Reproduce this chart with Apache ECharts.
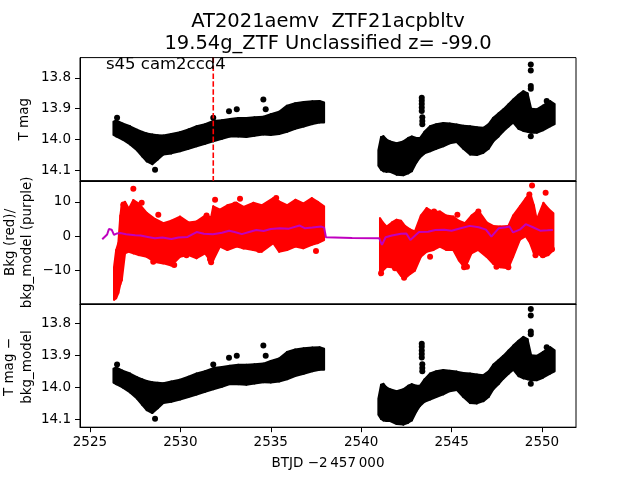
<!DOCTYPE html>
<html>
<head>
<meta charset="utf-8">
<script src="https://cdn.jsdelivr.net/npm/echarts@6/dist/echarts.min.js"></script>
<style>
html, body { margin: 0; background: #fff; }
#chart { width: 640px; height: 480px; }
</style>
</head>
<body>
<div id="chart"></div>
<script>
// black light curve band (T mag): time, bright edge, faint edge
const magT = [
    2526.30, 2526.45, 2526.80, 2527.22, 2527.60, 2527.90, 2528.14, 2528.45, 2528.75, 2529.06,
    2529.50, 2529.98, 2530.45, 2530.90, 2531.37, 2531.82, 2532.30, 2532.74, 2533.20, 2533.65,
    2534.10, 2534.59, 2535.00, 2535.46, 2535.90, 2536.35, 2536.82, 2537.30, 2537.70, 2537.95,
    2540.95, 2541.10, 2541.23, 2541.40, 2541.60, 2541.96, 2542.33, 2542.60, 2542.80, 2543.05,
    2543.25, 2543.50, 2543.81, 2544.15, 2544.54, 2544.90, 2545.28, 2545.65, 2546.02, 2546.40,
    2546.76, 2547.05, 2547.31, 2547.60, 2547.86, 2548.15, 2548.41, 2548.70, 2548.97, 2549.20,
    2549.40, 2549.71, 2550.05, 2550.45, 2550.70
];
const magLo = [
    13.942, 13.938, 13.948, 13.957, 13.968, 13.975, 13.980, 13.984, 13.986, 13.987,
    13.982, 13.976, 13.967, 13.957, 13.950, 13.940, 13.937, 13.933, 13.930, 13.930,
    13.928, 13.926, 13.918, 13.910, 13.890, 13.882, 13.878, 13.876, 13.875, 13.880,
    14.035, 13.992, 13.989, 14.000, 14.006, 14.012, 14.006, 13.995, 13.990, 13.995,
    13.995, 13.975, 13.957, 13.950, 13.946, 13.948, 13.951, 13.955, 13.957, 13.960,
    13.962, 13.950, 13.929, 13.915, 13.902, 13.885, 13.870, 13.855, 13.843, 13.850,
    13.900, 13.902, 13.890, 13.875, 13.885
];
const magHi = [
    13.985, 13.990, 14.000, 14.016, 14.035, 14.055, 14.071, 14.080, 14.065, 14.049,
    14.045, 14.038, 14.030, 14.022, 14.014, 14.006, 13.998, 13.990, 13.990, 13.992,
    13.988, 13.984, 13.985, 13.982, 13.975, 13.965, 13.958, 13.950, 13.945, 13.945,
    14.085, 14.098, 14.103, 14.105, 14.105, 14.114, 14.116, 14.110, 14.103, 14.075,
    14.058, 14.045, 14.038, 14.030, 14.022, 14.012, 14.008, 14.030, 14.049, 14.050,
    14.043, 14.030, 14.006, 13.990, 13.973, 13.958, 13.945, 13.965, 13.972, 13.975,
    13.978, 13.978, 13.970, 13.957, 13.950
];
// single black points away from the band
const magOutT = [2526.50, 2528.60, 2532.69, 2533.12, 2534.59, 2534.72, 2531.82,
    2543.35, 2543.35, 2543.35, 2543.35, 2543.35, 2543.38, 2543.38, 2543.38,
    2549.38, 2549.38, 2549.38, 2549.38, 2549.38, 2550.26];
const magOutV = [13.929, 14.098, 13.908, 13.902, 13.870, 13.902, 13.929,
    13.864, 13.874, 13.885, 13.896, 13.907, 13.928, 13.940, 13.950,
    13.756, 13.776, 13.826, 13.835, 13.989, 13.875];

// red background band: time, lowest, highest
const bkgT = [
    2526.33, 2526.45, 2526.57, 2526.68, 2526.76, 2526.94, 2527.15, 2527.40, 2527.70, 2528.14,
    2528.60, 2529.06, 2529.50, 2529.98, 2530.45, 2530.90, 2531.37, 2531.70, 2531.82, 2532.19,
    2532.60, 2533.11, 2533.50, 2534.03, 2534.50, 2535.14, 2535.46, 2535.90, 2536.36, 2536.80,
    2537.27, 2537.60, 2537.95,
    2541.04, 2541.20, 2541.41, 2541.70, 2541.96, 2542.20, 2542.42, 2542.70, 2542.97, 2543.30,
    2543.62, 2544.00, 2544.35, 2544.70, 2545.09, 2545.40, 2545.74, 2546.10, 2546.47, 2546.94,
    2547.30, 2547.68, 2548.14, 2548.40, 2548.78, 2549.10, 2549.34, 2549.55, 2549.71, 2550.08,
    2550.35, 2550.63
];
const bkgLo = [
    -18.5, -18.0, -16.5, -14.0, -12.8, -5.0, -4.5, -5.0, -5.5, -6.0,
    -7.5, -7.9, -8.5, -6.0, -5.5, -6.4, -5.0, -7.5, -6.9, -3.0,
    -4.0, -3.0, -3.5, -4.0, -4.5, -2.0, -4.5, -4.0, -3.0, -3.5,
    -2.5, -2.0, -1.1,
    -11.3, -10.0, -8.9, -9.0, -9.8, -11.5, -12.3, -11.0, -10.0, -6.0,
    -4.5, -4.0, -3.0, -4.0, -4.0, -7.0, -9.3, -5.0, -4.0, -6.0,
    -8.0, -9.0, -9.3, -6.0, -1.0, 0.0, -2.0, -5.0, -5.0, -6.0,
    -5.5, -4.0
];
const bkgHi = [
    -9.0, -4.0, -2.0, 6.0, 9.2, 10.0, 8.0, 10.5, 9.5, 6.8,
    5.0, 3.8, 4.5, 5.7, 4.0, 4.3, 6.0, 5.5, 8.7, 7.7,
    9.0, 9.7, 8.5, 9.7, 9.0, 11.1, 10.1, 9.0, 10.6, 9.5,
    11.1, 10.0, 8.7,
    5.3, 4.0, 2.8, 4.0, 4.8, 4.5, 3.0, 2.0, 1.4, 6.0,
    8.2, 7.0, 7.2, 6.0, 5.7, 4.5, 3.8, 6.0, 7.5, 4.0,
    3.0, 2.8, 3.0, 6.0, 8.7, 11.0, 12.6, 9.0, 4.8, 9.7,
    8.0, 6.7
];
// red points sticking out of the band
const bkgOutT = [2527.40, 2535.30, 2537.50, 2531.70, 2545.85, 2547.48, 2549.45, 2550.20, 2549.64,
    2526.85, 2527.86, 2528.78, 2528.50, 2529.66, 2530.34, 2531.45, 2531.64, 2531.92, 2533.03,
    2533.30, 2533.50, 2534.36, 2541.10, 2541.87, 2542.37, 2543.81, 2544.03, 2545.32, 2545.69,
    2546.48, 2548.14, 2549.30, 2550.04, 2550.55];
const bkgOutV = [13.8, 11.1, -4.3, -7.6, -8.9, -8.9, 14.7, 12.6, -5.5,
    9.2, 9.7, 6.2, -7.4, -8.4, -5.5, 6.0, -6.7, 10.6, 9.2,
    10.9, -3.0, -4.0, -10.8, -9.3, -12.1, -6.0, 7.2, 6.2, -9.0,
    7.2, -9.0, 12.1, -5.5, -3.8];

// purple background model
const modelT = [
    2525.68, 2525.95, 2526.05, 2526.20, 2526.33, 2526.50, 2526.67, 2527.00, 2527.50, 2527.80,
    2528.20, 2528.60, 2529.00, 2529.50, 2529.90, 2530.40, 2530.90, 2531.30, 2531.80, 2532.30,
    2532.70, 2533.00, 2533.40, 2533.80, 2534.20, 2534.60, 2535.00, 2535.50, 2536.00, 2536.60,
    2536.90, 2537.30, 2537.80, 2537.95, 2538.05, 2539.50, 2541.00, 2541.15, 2541.35, 2541.70,
    2542.20, 2542.50, 2542.72, 2543.00, 2543.20, 2543.70, 2544.10, 2544.60, 2545.00, 2545.50,
    2546.00, 2546.50, 2546.90, 2547.20, 2547.60, 2548.00, 2548.20, 2548.40, 2548.80, 2549.10,
    2549.50, 2549.90, 2550.30, 2550.60
];
const modelV = [
    -0.9, 0.5, 2.1, 1.9, 0.4, 0.8, 0.9, 0.6, 0.3, 0.2,
    -0.2, -0.6, -0.4, -0.8, -0.4, -0.2, 1.2, 0.7, 0.6, 1.0,
    1.6, 1.2, 0.6, 1.2, 1.8, 1.5, 2.1, 2.3, 2.2, 3.1,
    2.3, 2.5, 2.8, 2.5, -0.3, -0.5, -0.6, -2.5, -0.3, 0.2,
    0.7, 0.8, -1.1, 0.3, 1.2, 1.3, 1.8, 1.9, 1.6, 2.3,
    3.0, 2.6, 1.9, -0.1, 2.3, 2.6, 2.8, 1.1, 2.0, 3.5,
    2.6, 1.6, 1.7, 1.8
];

const sectorLine = 2531.82;
const xTicks = [2525, 2530, 2535, 2540, 2545, 2550];
const magTicks = [13.8, 13.9, 14.0, 14.1];
const bkgTicks = [-10, 0, 10];

const FONT = 'DejaVu Sans';
const X_MIN = 2524.45, X_MAX = 2551.88;
const panelTop = [57.6, 180.8, 304];
const panelH = 123.2;

const chart = echarts.init(document.getElementById('chart'));

function bandRender(t, lo, hi, color) {
    return function (params, api) {
        const i = params.dataIndex;
        if (i >= t.length - 1 || t[i + 1] - t[i] > 1.5) return null;
        return {
            type: 'polygon',
            shape: {
                points: [
                    api.coord([t[i], lo[i]]),
                    api.coord([t[i], hi[i]]),
                    api.coord([t[i + 1], hi[i + 1]]),
                    api.coord([t[i + 1], lo[i + 1]])
                ]
            },
            style: { fill: color, stroke: color, lineWidth: 2, lineJoin: 'round' }
        };
    };
}

function xAxisFor(k) {
    const bottom = k === 2;
    return {
        type: 'value', gridIndex: k, min: X_MIN, max: X_MAX,
        axisLine: { show: true, onZero: false, lineStyle: { color: '#000', width: 1 } },
        axisTick: { show: bottom, customValues: xTicks, length: 5, lineStyle: { color: '#000' } },
        axisLabel: {
            show: bottom, customValues: xTicks, color: '#000', fontFamily: FONT, fontSize: 13.5, margin: 8,
            formatter: v => String(v)
        },
        splitLine: { show: false }
    };
}

function yAxisFor(k, min, max, ticks, inverse, digits) {
    return {
        type: 'value', gridIndex: k, min: min, max: max, inverse: inverse,
        axisLine: { show: true, onZero: false, lineStyle: { color: '#000', width: 1 } },
        axisTick: { show: true, customValues: ticks, length: 5, lineStyle: { color: '#000' } },
        axisLabel: {
            customValues: ticks, color: '#000', fontFamily: FONT, fontSize: 13.5, margin: 9,
            formatter: v => digits ? v.toFixed(digits) : String(v).replace('-', '\u2212')
        },
        splitLine: { show: false }
    };
}

function textEl(x, y, text, size, rotate) {
    return {
        type: 'text', x: x, y: y, rotation: rotate ? Math.PI / 2 : 0,
        style: { text: text, fill: '#000', font: size + 'px "' + FONT + '"', textAlign: 'center', textVerticalAlign: 'middle' }
    };
}

const zip = (a, b) => a.map((v, i) => [v, b[i]]);

chart.setOption({
    animation: false,
    backgroundColor: '#fff',
    grid: panelTop.map(top => ({
        left: 80, width: 496, top: top, height: panelH,
        show: true, borderColor: '#000', borderWidth: 1, backgroundColor: 'transparent'
    })),
    xAxis: [xAxisFor(0), xAxisFor(1), xAxisFor(2)],
    yAxis: [
        yAxisFor(0, 13.734, 14.134, magTicks, true, 1),
        yAxisFor(1, -19.7, 16.1, bkgTicks, false, 0),
        yAxisFor(2, 13.7406, 14.124, magTicks, true, 1)
    ],
    series: [
        {
            type: 'custom', xAxisIndex: 0, yAxisIndex: 0,
            data: magT.map((t, i) => [t, magLo[i], magHi[i]]),
            encode: { x: 0, y: [1, 2] },
            renderItem: bandRender(magT, magLo, magHi, '#000')
        },
        {
            type: 'scatter', xAxisIndex: 0, yAxisIndex: 0, symbolSize: 6,
            itemStyle: { color: '#000', opacity: 1 }, data: zip(magOutT, magOutV)
        },
        {
            type: 'line', xAxisIndex: 0, yAxisIndex: 0, symbol: 'none',
            lineStyle: { color: '#ff0000', width: 1.6, type: [5.5, 2.4] },
            data: [[sectorLine, 13.734], [sectorLine, 14.134]], z: 5
        },
        {
            type: 'custom', xAxisIndex: 1, yAxisIndex: 1,
            data: bkgT.map((t, i) => [t, bkgLo[i], bkgHi[i]]),
            encode: { x: 0, y: [1, 2] },
            renderItem: bandRender(bkgT, bkgLo, bkgHi, '#ff0000')
        },
        {
            type: 'scatter', xAxisIndex: 1, yAxisIndex: 1, symbolSize: 6,
            itemStyle: { color: '#ff0000', opacity: 1 }, data: zip(bkgOutT, bkgOutV)
        },
        {
            type: 'line', xAxisIndex: 1, yAxisIndex: 1, symbol: 'none', z: 5,
            lineStyle: { color: '#bf00bf', width: 2 }, data: zip(modelT, modelV)
        },
        {
            type: 'custom', xAxisIndex: 2, yAxisIndex: 2,
            data: magT.map((t, i) => [t, magLo[i], magHi[i]]),
            encode: { x: 0, y: [1, 2] },
            renderItem: bandRender(magT, magLo, magHi, '#000')
        },
        {
            type: 'scatter', xAxisIndex: 2, yAxisIndex: 2, symbolSize: 6,
            itemStyle: { color: '#000', opacity: 1 }, data: zip(magOutT, magOutV)
        }
    ],
    graphic: [
        textEl(328, 22, 'AT2021aemv  ZTF21acpbltv', 19.5),
        textEl(328, 44, '19.54g_ZTF Unclassified z= -99.0', 19.5),
        { type: 'text', x: 106, y: 64.5, z: 10,
          style: { text: 's45 cam2ccd4', fill: '#000', font: '16.5px "' + FONT + '"', textAlign: 'left', textVerticalAlign: 'middle' } },
        textEl(24, 119.2, 'T mag', 13.5, true),
        textEl(10, 242.4, 'Bkg (red)/', 13.5, true),
        textEl(27, 242.4, 'bkg_model (purple)', 13.5, true),
        textEl(9, 367, 'T mag \u2212', 13.5, true),
        textEl(27, 367, 'bkg_model', 13.5, true),
        textEl(328, 463, 'BTJD \u22122\u2009457\u2009000', 13.5)
    ]
});
</script>
</body>
</html>
